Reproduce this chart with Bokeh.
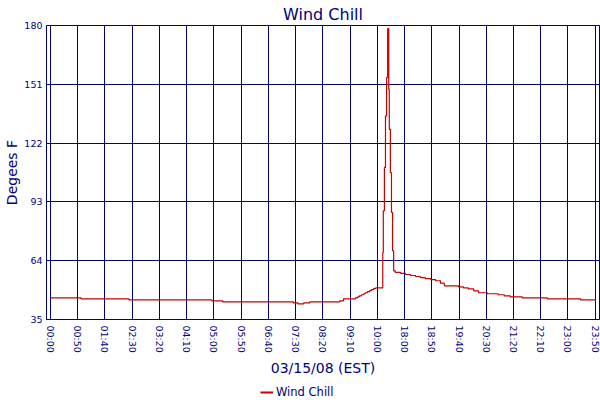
from bokeh.plotting import figure
from bokeh.layouts import column
from bokeh.models import Range1d, FixedTicker, Legend, LegendItem
from bokeh.embed import file_html
from bokeh.resources import INLINE

NAVY = "#000080"
RED = "#cc0000"
FONT = "DejaVu Sans"

title_text = "Wind Chill"
x_title = "03/15/08 (EST)"
y_title = "Degees F"
series_name = "Wind Chill"

# one record per minute of logged data; a label every 50 records
tick_labels = ["00:00", "00:50", "01:40", "02:30", "03:20", "04:10", "05:00",
               "05:50", "06:40", "07:30", "08:20", "09:10", "10:00", "18:00",
               "18:50", "19:40", "20:30", "21:20", "22:10", "23:00", "23:50"]
records_per_label = 50
y_ticks = [35, 64, 93, 122, 151, 180]

# record index where the reading changes, and the reading (deg F)
record = [0, 56, 144, 296, 316, 446, 454, 465, 476, 531, 538,
          560, 564, 567, 571, 575, 578, 582, 586, 589, 593, 597,
          610, 611, 613, 615, 617, 619, 621, 622, 624, 626, 628, 630,
          633, 643, 652, 661, 670, 679, 688, 698, 707, 716, 723,
          749, 758, 767, 777, 786, 802, 822, 833, 844, 866, 912, 973, 1000]
wind_chill = [45.7, 45.2, 44.7, 44.2, 43.7, 43.2, 42.7, 43.2, 43.7, 44.2, 45.2,
              45.7, 46.2, 46.7, 47.2, 47.7, 48.2, 48.7, 49.2, 49.7, 50.2, 50.6,
              68.0, 88.6, 110.0, 135.4, 154.3, 178.5, 148.6, 128.8, 107.5, 87.8, 68.9, 59.0,
              58.2, 57.7, 57.2, 56.7, 56.2, 55.7, 55.2, 54.7, 54.1, 52.9, 51.6,
              51.1, 50.6, 50.1, 49.1, 48.2, 47.7, 47.2, 46.7, 46.2, 45.7, 45.2, 44.7, 44.4]

x_ticks = [i * records_per_label for i in range(len(tick_labels))]

p = figure(width=600, height=382, output_backend="svg", toolbar_location=None,
           x_range=Range1d(-7.3, 1007.9), y_range=Range1d(y_ticks[0], y_ticks[-1]),
           min_border_left=46, min_border_right=1, min_border_top=25,
           min_border_bottom=63, background_fill_color="white",
           border_fill_color="white")

r = p.step(record, wind_chill, mode="after", line_color=RED, line_width=1.2)

p.title.text = title_text
p.title.align = "center"
p.title.text_font = FONT
p.title.text_font_size = "16px"
p.title.text_font_style = "normal"
p.title.text_color = NAVY
p.title.standoff = 3

p.outline_line_color = NAVY
p.outline_line_width = 1

for ax in (p.xaxis, p.yaxis):
    ax.axis_line_color = NAVY
    ax.major_tick_out = 0
    ax.major_tick_in = 0
    ax.minor_tick_out = 0
    ax.minor_tick_in = 0
    ax.major_label_text_color = NAVY
    ax.major_label_text_font = FONT
    ax.major_label_text_font_size = "9.5px"
    ax.axis_label_text_color = NAVY
    ax.axis_label_text_font = FONT
    ax.axis_label_text_font_size = "14px"
    ax.axis_label_text_font_style = "normal"

p.xaxis.ticker = FixedTicker(ticks=x_ticks)
p.xaxis.major_label_overrides = {t: lab for t, lab in zip(x_ticks, tick_labels)}
p.xaxis.major_label_orientation = "vertical"
p.xaxis.major_label_standoff = 6
p.xaxis.axis_label = x_title
p.xaxis.axis_label_standoff = 4

p.yaxis.ticker = FixedTicker(ticks=y_ticks)
p.yaxis.major_label_standoff = 4
p.yaxis.axis_label = y_title
p.yaxis.axis_label_standoff = 1

p.xgrid.ticker = FixedTicker(ticks=x_ticks)
p.ygrid.ticker = FixedTicker(ticks=y_ticks)
for g in (p.xgrid, p.ygrid):
    g.grid_line_color = NAVY
    g.grid_line_width = 1
    g.grid_line_alpha = 1

# legend strip below the chart (its frame is aligned with the chart's frame)
leg = figure(width=600, height=18, output_backend="svg", toolbar_location=None,
             x_axis_type=None, y_axis_type=None, min_border=0,
             background_fill_color="white", border_fill_color="white")
leg.outline_line_color = None
leg.xgrid.visible = False
leg.ygrid.visible = False
key = leg.step(record, wind_chill, mode="after", line_color=RED, line_width=2,
               visible=False)
legend = Legend(items=[LegendItem(label=series_name, renderers=[key])],
                orientation="horizontal", location=(214, 1),
                border_line_color=None, background_fill_alpha=0,
                label_text_color=NAVY, label_text_font=FONT,
                label_text_font_size="11.5px", glyph_width=13, glyph_height=12,
                label_height=12, padding=2, margin=0, spacing=0, label_standoff=3)
leg.add_layout(legend, "center")

layout = column(p, leg, spacing=0)
open("out.html", "w").write(file_html(layout, INLINE))
